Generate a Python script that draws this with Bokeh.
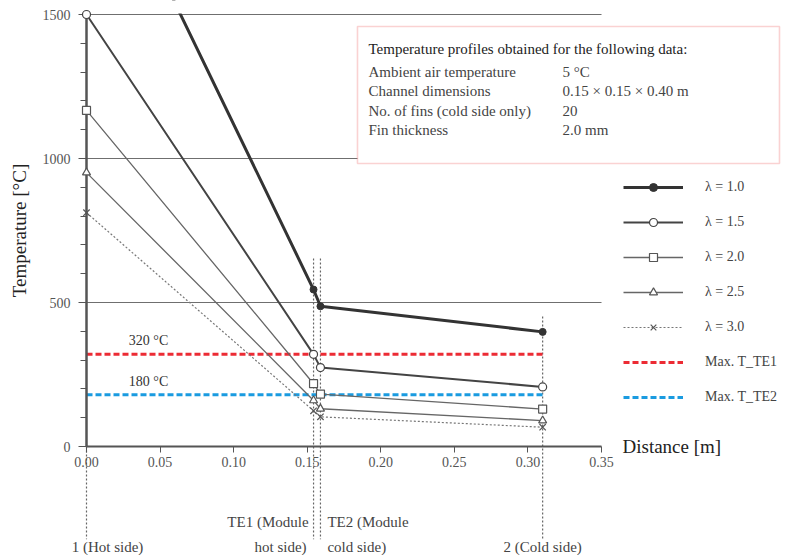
from bokeh.plotting import figure
from bokeh.models import (Range1d, LinearAxis, FixedTicker, PrintfTickFormatter,
                          Legend, LegendItem, Label, BoxAnnotation)
from bokeh.embed import file_html
from bokeh.resources import INLINE

# ---------------- data ----------------
DISTANCE = [0.0, 0.1543, 0.159, 0.31]          # hot side, TE1, TE2, cold side [m]
T_LAMBDA_10 = [2175, 545, 487, 398]
T_LAMBDA_15 = [1500, 320, 274, 207]
T_LAMBDA_20 = [1167, 218, 182, 130]
T_LAMBDA_25 = [951, 160, 131, 90]
T_LAMBDA_30 = [812, 124, 103, 67]
SERIES_LABELS = ["λ = 1.0", "λ = 1.5", "λ = 2.0", "λ = 2.5", "λ = 3.0"]
MAX_T_TE1 = 320
MAX_T_TE2 = 180
MAX_LABELS = ["Max. T_TE1", "Max. T_TE2"]
MAX_TEXTS = ["320 °C", "180 °C"]
X_TICKS = [0.0, 0.05, 0.10, 0.15, 0.20, 0.25, 0.30, 0.35]
Y_TICKS = [0, 500, 1000, 1500]
Y_MINOR = [100, 200, 300, 400, 600, 700, 800, 900, 1100, 1200, 1300, 1400]
GUIDE_TOP = [0, 653, 653, 451]
GUIDE_BOTTOM = -322
INFO_TITLE = "Temperature profiles obtained for the following data:"
INFO_KEYS = ["Ambient air temperature", "Channel dimensions",
             "No. of fins (cold side only)", "Fin thickness"]
INFO_VALUES = ["5 °C", "0.15 × 0.15 × 0.40 m", "20", "2.0 mm"]

# ---------------- layout helpers (pixel -> data) ----------------
W, H = 787, 555
PX_X0, PX_Y0 = 86, 446
PXM = 515 / 0.35
PXC = 432 / 1500


def sx(px):
    return (px - PX_X0) / PXM


def sy(py):
    return (PX_Y0 - py) / PXC


FONT = "Liberation Serif"

p = figure(width=W, height=H, output_backend="svg", toolbar_location=None,
           x_range=Range1d(sx(0), sx(W)), y_range=Range1d(sy(H), sy(0)),
           x_axis_location=None, y_axis_location=None, min_border=0,
           outline_line_color=None, background_fill_color="white")
p.title.visible = False
p.grid.visible = False

# horizontal grid lines
p.segment(x0=X_TICKS[0], x1=X_TICKS[-1], y0=Y_TICKS[1:], y1=Y_TICKS[1:],
          line_color="#6f6f6f", line_width=1.2, level="underlay")

# axes
xaxis = LinearAxis(fixed_location=0, bounds=(X_TICKS[0], X_TICKS[-1]),
                   ticker=FixedTicker(ticks=X_TICKS),
                   formatter=PrintfTickFormatter(format="%.2f"))
xaxis.axis_line_color = "#555555"
xaxis.axis_line_width = 2
xaxis.major_tick_line_color = "#555555"
xaxis.major_tick_out = 6
xaxis.major_tick_in = 0
xaxis.minor_tick_line_color = None
xaxis.major_label_text_font = FONT
xaxis.major_label_text_font_size = "14px"
xaxis.major_label_text_color = "#555555"
xaxis.major_label_standoff = 4
p.add_layout(xaxis, "below")

yaxis = LinearAxis(fixed_location=0, bounds=(Y_TICKS[0], Y_TICKS[-1]),
                   ticker=FixedTicker(ticks=Y_TICKS, minor_ticks=Y_MINOR),
                   axis_label="Temperature [°C]")
yaxis.axis_line_color = "#555555"
yaxis.axis_line_width = 2.5
yaxis.major_tick_line_color = "#555555"
yaxis.minor_tick_line_color = "#555555"
yaxis.major_tick_out = 8
yaxis.major_tick_in = 0
yaxis.minor_tick_out = 6
yaxis.minor_tick_in = 0
yaxis.major_label_text_font = FONT
yaxis.major_label_text_font_size = "14px"
yaxis.major_label_text_color = "#555555"
yaxis.major_label_standoff = 8
yaxis.axis_label_text_font = FONT
yaxis.axis_label_text_font_size = "19px"
yaxis.axis_label_text_font_style = "normal"
yaxis.axis_label_text_color = "#222222"
yaxis.axis_label_standoff = 10
p.add_layout(yaxis, "left")

# vertical dotted guide lines
p.segment(x0=DISTANCE, x1=DISTANCE, y0=GUIDE_TOP, y1=[GUIDE_BOTTOM] * len(DISTANCE),
          line_color="#666666", line_width=1.2, line_dash="2 2")

# max temperature lines
r_te1 = p.line(x=[DISTANCE[0], DISTANCE[-1]], y=[MAX_T_TE1, MAX_T_TE1],
               line_color="#ec2b34", line_width=3, line_dash="6 3")
r_te2 = p.line(x=[DISTANCE[0], DISTANCE[-1]], y=[MAX_T_TE2, MAX_T_TE2],
               line_color="#1a9be0", line_width=3, line_dash="6 3")

# temperature profiles
styles = [
    (T_LAMBDA_10, dict(line_color="#333333", line_width=3), "circle",
     dict(size=7, fill_color="#333333", line_color="#333333")),
    (T_LAMBDA_15, dict(line_color="#444444", line_width=2), "circle",
     dict(size=8, fill_color="white", line_color="#444444", line_width=1.2)),
    (T_LAMBDA_20, dict(line_color="#666666", line_width=1.3), "square",
     dict(size=8, fill_color="white", line_color="#555555", line_width=1.2)),
    (T_LAMBDA_25, dict(line_color="#666666", line_width=1.3), "triangle",
     dict(size=8, fill_color="white", line_color="#555555", line_width=1.2)),
    (T_LAMBDA_30, dict(line_color="#777777", line_width=1.2, line_dash="2 2"), "x",
     dict(size=9, line_color="#555555", line_width=1.2)),
]
items = []
for (vals, lstyle, marker, mstyle), lab in zip(styles, SERIES_LABELS):
    rl = p.line(x=DISTANCE, y=vals, **lstyle)
    rm = p.scatter(x=DISTANCE, y=vals, marker=marker, level="overlay", **mstyle)
    items.append(LegendItem(label=lab, renderers=[rl, rm]))
items.append(LegendItem(label=MAX_LABELS[0], renderers=[r_te1]))
items.append(LegendItem(label=MAX_LABELS[1], renderers=[r_te2]))

# hide the part of the lambda=1.0 line above the 1500 line (chart top)
p.add_layout(BoxAnnotation(left=0.02, right=0.15, bottom=Y_TICKS[-1] + 1.0 / PXC,
                           fill_color="white", fill_alpha=1.0, line_color=None,
                           level="overlay"))

legend = Legend(items=items, location=(623, 148), orientation="vertical",
                glyph_width=60, glyph_height=20, label_height=20, spacing=15,
                padding=0, margin=0, border_line_color=None, background_fill_alpha=0,
                label_text_font=FONT, label_text_font_size="14px",
                label_text_color="#444444", label_standoff=22)
p.add_layout(legend)

# labels on max lines
for t, txt in zip([MAX_T_TE1, MAX_T_TE2], MAX_TEXTS):
    p.add_layout(Label(x=sx(148), y=t, y_offset=6, text=txt, text_align="center",
                       text_baseline="bottom", text_font=FONT, text_font_size="14px",
                       text_color="#333333"))

# axis title for distance
p.add_layout(Label(x=sx(622), y=0, text="Distance [m]", text_baseline="middle",
                   text_font=FONT, text_font_size="19px", text_color="#222222"))

# station labels
lab_style = dict(text_font=FONT, text_font_size="15px", text_color="#444444",
                 text_baseline="middle")
p.add_layout(Label(x=DISTANCE[0], x_offset=21, y=sy(546), text="1 (Hot side)",
                   text_align="center", **lab_style))
p.add_layout(Label(x=DISTANCE[1], x_offset=-5, y=sy(521), text="TE1 (Module",
                   text_align="right", **lab_style))
p.add_layout(Label(x=DISTANCE[1], x_offset=-7, y=sy(546), text="hot side)",
                   text_align="right", **lab_style))
p.add_layout(Label(x=DISTANCE[2], x_offset=7, y=sy(521), text="TE2 (Module",
                   text_align="left", **lab_style))
p.add_layout(Label(x=DISTANCE[2], x_offset=7, y=sy(546), text="cold side)",
                   text_align="left", **lab_style))
p.add_layout(Label(x=DISTANCE[3], x_offset=0, y=sy(546), text="2 (Cold side)",
                   text_align="center", **lab_style))

# info box
p.add_layout(BoxAnnotation(left=sx(357), right=sx(779), top=sy(26), bottom=sy(163),
                           fill_color="white", fill_alpha=1.0,
                           line_color="#ee6a6a", line_width=1.6))
p.add_layout(Label(x=sx(368), y=sy(48), text=INFO_TITLE, text_baseline="middle",
                   text_font=FONT, text_font_size="15px", text_color="#222222"))
for i, (k, v) in enumerate(zip(INFO_KEYS, INFO_VALUES)):
    yy = sy(71 + i * 19.5)
    p.add_layout(Label(x=sx(368), y=yy, text=k, text_baseline="middle",
                       text_font=FONT, text_font_size="15px", text_color="#444444"))
    p.add_layout(Label(x=sx(562), y=yy, text=v, text_baseline="middle",
                       text_font=FONT, text_font_size="15px", text_color="#444444"))

open("out.html", "w").write(file_html(p, INLINE))
